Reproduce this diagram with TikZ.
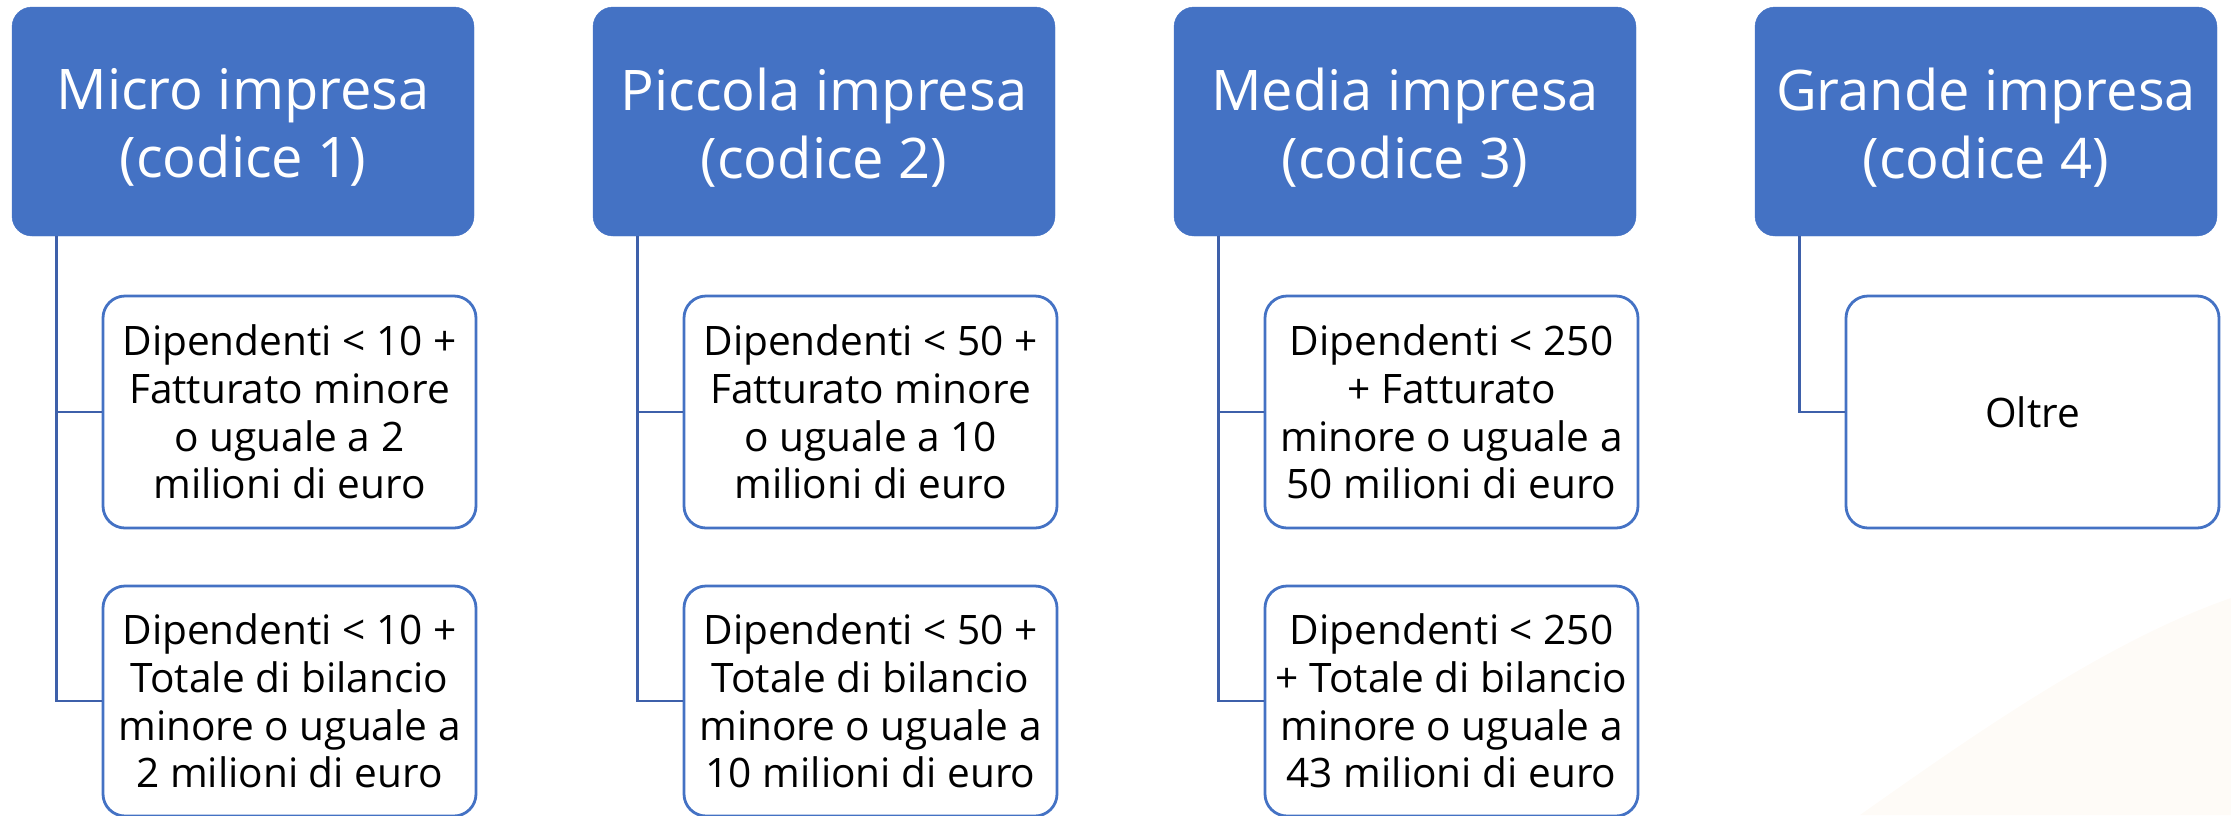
\documentclass[tikz,border=0pt]{standalone}
\usepackage{fontspec}
\setmainfont{Open Sans}
\definecolor{hdrblue}{RGB}{68,114,196}
\definecolor{linkblue}{RGB}{62,96,170}
\definecolor{bgbeige}{RGB}{254,251,247}
\begin{document}
\begin{tikzpicture}[x=1pt,y=-1pt,
  hdr/.style={fill=hdrblue, draw=hdrblue, rounded corners=20pt, minimum width=462pt, minimum height=229pt, inner sep=0pt},
  hdrtext/.style={inner sep=0pt, align=center, text=white, font=\fontsize{56}{68}\selectfont},
  crit/.style={draw=hdrblue, line width=2.8pt, fill=white, rounded corners=22pt, minimum width=373pt, minimum height=232pt, inner sep=0pt, align=center, font=\fontsize{40.6}{47.7}\selectfont},
  link/.style={draw=linkblue, line width=2.8pt}]
\useasboundingbox (0,0) rectangle (2231,815);
\clip (0,0) rectangle (2231,815);
\fill[bgbeige] (1860,815) .. controls (1980,730) and (2110,640) .. (2231,598) -- (2231,815) -- cycle;

% column 1
\node[hdr] (h1) at (243,121.5) {};
\node[hdrtext] (h1t) at ([yshift=-6pt]h1.center) {Micro impresa\\(codice 1)};
\node[crit] (c1a) at (289.5,412) {Dipendenti < 10 +\\Fatturato minore\\o uguale a 2\\milioni di euro};
\node[crit, minimum height=230pt] (c1b) at (289.5,701) {Dipendenti < 10 +\\Totale di bilancio\\minore o uguale a\\2 milioni di euro};
\draw[link] ([xshift=45pt]h1.south west) |- (c1a.west);
\draw[link] ([xshift=45pt]h1.south west) |- (c1b.west);

% column 2
\node[hdr] (h2) at (824,121.5) {};
\node[hdrtext] (h2t) at ([yshift=-6pt]h2.center) {Piccola impresa\\(codice 2)};
\node[crit] (c2a) at (870.5,412) {Dipendenti < 50 +\\Fatturato minore\\o uguale a 10\\milioni di euro};
\node[crit, minimum height=230pt] (c2b) at (870.5,701) {Dipendenti < 50 +\\Totale di bilancio\\minore o uguale a\\10 milioni di euro};
\draw[link] ([xshift=45pt]h2.south west) |- (c2a.west);
\draw[link] ([xshift=45pt]h2.south west) |- (c2b.west);

% column 3
\node[hdr] (h3) at (1405,121.5) {};
\node[hdrtext] (h3t) at ([yshift=-6pt]h3.center) {Media impresa\\(codice 3)};
\node[crit] (c3a) at (1451.5,412) {Dipendenti < 250\\+ Fatturato\\minore o uguale a\\50 milioni di euro};
\node[crit, minimum height=230pt] (c3b) at (1451.5,701) {Dipendenti < 250\\+ Totale di bilancio\\minore o uguale a\\43 milioni di euro};
\draw[link] ([xshift=45pt]h3.south west) |- (c3a.west);
\draw[link] ([xshift=45pt]h3.south west) |- (c3b.west);

% column 4
\node[hdr] (h4) at (1986,121.5) {};
\node[hdrtext] (h4t) at ([yshift=-6pt]h4.center) {Grande impresa\\(codice 4)};
\node[crit] (c4a) at (2032.5,412) {Oltre};
\draw[link] ([xshift=45pt]h4.south west) |- (c4a.west);
\end{tikzpicture}
\end{document}
